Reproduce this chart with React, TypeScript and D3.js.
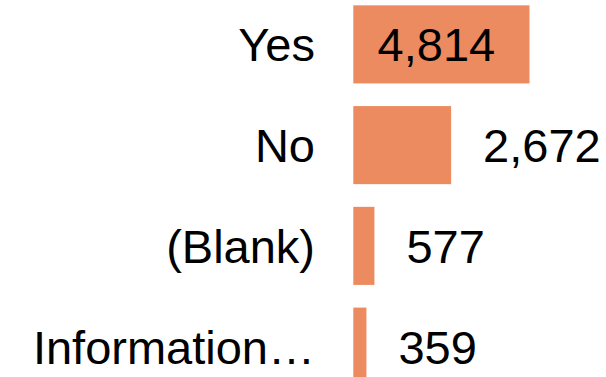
import React from "react";
import * as d3 from "d3";

const categories = ["Yes", "No", "(Blank)", "Information…"];
const values = [4814, 2672, 577, 359];

const W = 606;
const H = 377;
const FONT = "'Liberation Sans', Arial, sans-serif";
const FS = 47;

export default function App() {
  const y = d3.scaleBand<string>().domain(categories).range([-6, 397]).paddingInner(0.225).paddingOuter(0.1125);
  const x = d3.scaleLinear().domain([0, 4814]).range([353.3, 529.5]);
  const fmt = d3.format(",");
  const capOff = FS * 0.36;
  return (
    <svg width={W} height={H} style={{ position: "fixed", left: 0, top: 0, background: "#fff" }} fontFamily={FONT}>
      {categories.map((c, i) => {
        const y0 = y(c)!;
        const bw = y.bandwidth();
        const cy = y0 + bw / 2;
        const x1 = x(values[i]);
        const w = x1 - x(0);
        const label = fmt(values[i]);
        const textW = label.length * FS * 0.52;
        const inside = textW + 20 < w;
        return (
          <g key={c}>
            <rect x={x(0)} y={y0} width={w} height={bw} fill="#EC8B5F" />
            <text x={315} y={cy + capOff} fontSize={FS} textAnchor="end" fill="#000">{c}</text>
            {inside ? (
              <text x={(x(0) + x1) / 2 - 5} y={cy + capOff} fontSize={FS} textAnchor="middle" fill="#000">{label}</text>
            ) : (
              <text x={x1 + 32} y={cy + capOff} fontSize={FS} textAnchor="start" fill="#000">{label}</text>
            )}
          </g>
        );
      })}
    </svg>
  );
}
